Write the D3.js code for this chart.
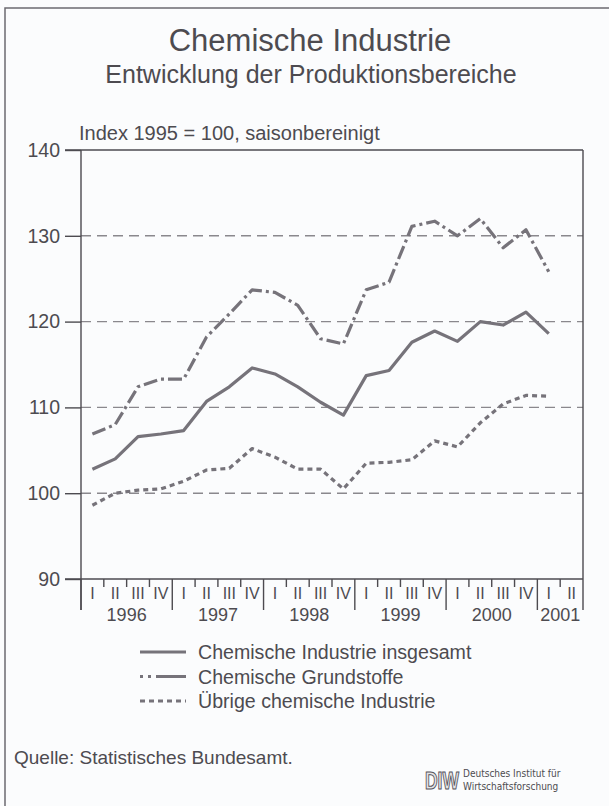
<!DOCTYPE html>
<html>
<head>
<meta charset="utf-8">
<script src="https://cdn.jsdelivr.net/npm/d3@7"></script>
<style>
    body { margin: 0; background: #fbfcfd; }
    svg { display: block; font-family: 'Liberation Sans', Arial, Helvetica, sans-serif; }
</style>
</head>
<body>
<div id="chart"></div>
<script>
'use strict';

const years = ['1996', '1997', '1998', '1999', '2000', '2001'];
const quarterNames = ['I', 'II', 'III', 'IV'];
const yTicks = [90, 100, 110, 120, 130, 140];
const gridValues = [100, 110, 120, 130];

// index 1995 = 100, quarters 1996 I .. 2001 I
const insgesamt = [102.8, 104.0, 106.6, 106.9, 107.3, 110.7, 112.4, 114.6, 113.9, 112.4, 110.6,
                   109.1, 113.7, 114.3, 117.6, 118.9, 117.7, 120.0, 119.6, 121.1, 118.6];
const grundstoffe = [106.9, 108.0, 112.4, 113.3, 113.3, 118.2, 120.9, 123.7, 123.4, 121.9, 118.0,
                     117.4, 123.7, 124.6, 131.1, 131.7, 130.0, 132.0, 128.6, 130.7, 125.8];
const uebrige = [98.6, 100.0, 100.35, 100.5, 101.4, 102.7, 102.9, 105.2, 104.2, 102.8, 102.8,
                 100.5, 103.5, 103.6, 103.9, 106.1, 105.4, 108.2, 110.4, 111.4, 111.3];

const seriesNames = ['Chemische Industrie insgesamt', 'Chemische Grundstoffe', 'Übrige chemische Industrie'];

const width = 609,
      height = 806;
const plot = {'left': 81, 'right': 583, 'top': 150, 'bottom': 579};
const ink = '#4d4b50',
      lineColor = '#76737a',
      gridColor = '#8a888d';
const dashes = ['none', '14,4,3,4', '5,4'];

// quarter list: only up to 2001 II
let quarters = [];
years.forEach(function(y) {
    quarterNames.forEach(function(q) {
        if (y == '2001' && (q == 'III' || q == 'IV')) return;
        quarters.push(y + '-' + q);
    });
});

let x = d3.scaleBand().domain(quarters).range([plot.left, plot.right]).padding(0);
let y = d3.scaleLinear().domain([90, 140]).range([plot.bottom, plot.top]);

let svg = d3.select('#chart')
            .append('svg')
            .attr('width', width)
            .attr('height', height);

// page frame
svg.append('path')
   .attr('d', 'M5,806 V8 H609')
   .attr('fill', 'none')
   .attr('stroke', '#6c6a70')
   .attr('stroke-width', 1.5);

svg.append('text')
   .attr('x', 310)
   .attr('y', 51)
   .attr('text-anchor', 'middle')
   .attr('font-size', 31)
   .attr('fill', ink)
   .text('Chemische Industrie');

svg.append('text')
   .attr('x', 311)
   .attr('y', 83)
   .attr('text-anchor', 'middle')
   .attr('font-size', 25)
   .attr('fill', ink)
   .text('Entwicklung der Produktionsbereiche');

svg.append('text')
   .attr('x', 79)
   .attr('y', 140)
   .attr('font-size', 20)
   .attr('fill', ink)
   .text('Index 1995 = 100, saisonbereinigt');

// grid
svg.append('g')
   .selectAll('line')
   .data(gridValues)
   .join('line')
   .attr('x1', plot.left)
   .attr('x2', plot.right)
   .attr('y1', d => y(d))
   .attr('y2', d => y(d))
   .attr('stroke', gridColor)
   .attr('stroke-width', 1.4)
   .attr('stroke-dasharray', '10,6');

// y axis
let yAxis = d3.axisLeft(y)
              .tickValues(yTicks)
              .tickSize(16)
              .tickPadding(5)
              .tickFormat(d3.format('d'));
let gy = svg.append('g')
            .attr('transform', 'translate(' + plot.left + ',0)')
            .call(yAxis);
gy.select('.domain').remove();
gy.selectAll('line').attr('stroke', ink).attr('stroke-width', 1.4);
gy.selectAll('text').attr('font-size', 19.5).attr('fill', ink).attr('font-family', null);

// frame: top, right, left, bottom axis
svg.append('path')
   .attr('d', 'M' + plot.right + ',' + y(140) + ' V610 M' + plot.left + ',' + y(140) + ' V610')
   .attr('fill', 'none')
   .attr('stroke', ink)
   .attr('stroke-width', 1.4);
svg.append('line')
   .attr('x1', plot.left - 16)
   .attr('x2', plot.right)
   .attr('y1', y(140))
   .attr('y2', y(140))
   .attr('stroke', ink)
   .attr('stroke-width', 1.4);
svg.append('line')
   .attr('x1', plot.left - 16)
   .attr('x2', plot.right)
   .attr('y1', y(90))
   .attr('y2', y(90))
   .attr('stroke', ink)
   .attr('stroke-width', 1.4);

// quarter ticks and labels
let xg = svg.append('g');
xg.selectAll('line.q')
  .data(quarters)
  .join('line')
  .attr('class', 'q')
  .attr('x1', d => x(d))
  .attr('x2', d => x(d))
  .attr('y1', y(90))
  .attr('y2', d => d.endsWith('-I') ? 610 : y(90) + 8)
  .attr('stroke', ink)
  .attr('stroke-width', 1.4);
xg.selectAll('text.q')
  .data(quarters)
  .join('text')
  .attr('class', 'q')
  .attr('x', d => x(d) + x.bandwidth() / 2)
  .attr('y', 599)
  .attr('text-anchor', 'middle')
  .attr('font-size', 16)
  .attr('fill', ink)
  .text(d => d.split('-')[1]);
xg.selectAll('text.y')
  .data(years)
  .join('text')
  .attr('class', 'y')
  .attr('x', function(d) {
      let qs = quarters.filter(q => q.startsWith(d));
      return (x(qs[0]) + x(qs[qs.length - 1]) + x.bandwidth()) / 2;
  })
  .attr('y', 621)
  .attr('text-anchor', 'middle')
  .attr('font-size', 18)
  .attr('fill', ink)
  .text(d => d);

// series
let line = d3.line()
             .x((d, i) => x(quarters[i]) + x.bandwidth() / 2)
             .y(d => y(d));
[insgesamt, grundstoffe, uebrige].forEach(function(s, k) {
    svg.append('path')
       .datum(s)
       .attr('d', line)
       .attr('fill', 'none')
       .attr('stroke', lineColor)
       .attr('stroke-width', 3.2)
       .attr('stroke-linejoin', 'round')
       .attr('stroke-dasharray', dashes[k]);
});

// legend
let legend = svg.append('g').attr('transform', 'translate(140,652)');
seriesNames.forEach(function(name, k) {
    legend.append('line')
          .attr('x1', 0)
          .attr('x2', 46)
          .attr('y1', k * 24.5)
          .attr('y2', k * 24.5)
          .attr('stroke', lineColor)
          .attr('stroke-width', 3)
          .attr('stroke-dasharray', k == 1 ? '3,5,3,5,30' : dashes[k]);
    legend.append('text')
          .attr('x', 58)
          .attr('y', k * 24.5 + 7)
          .attr('font-size', 19.6)
          .attr('fill', ink)
          .text(name);
});

svg.append('text')
   .attr('x', 14)
   .attr('y', 764)
   .attr('font-size', 19)
   .attr('fill', ink)
   .text('Quelle: Statistisches Bundesamt.');

// DIW logo
let logo = svg.append('g').attr('transform', 'translate(425,767)');
logo.append('text')
    .attr('transform', 'scale(1,1.4)')
    .attr('x', 0)
    .attr('y', 15.5)
    .attr('font-size', 17.5)
    .attr('font-weight', 'bold')
    .attr('fill', '#e4e4e6')
    .attr('stroke', '#55535a')
    .attr('stroke-width', 0.8)
    .text('DIW');
logo.append('text')
    .attr('x', 38)
    .attr('y', 10)
    .attr('font-family', "'DejaVu Sans Condensed', 'DejaVu Sans', sans-serif")
    .attr('font-size', 10)
    .attr('fill', ink)
    .text('Deutsches Institut für');
logo.append('text')
    .attr('x', 38)
    .attr('y', 23)
    .attr('font-family', "'DejaVu Sans Condensed', 'DejaVu Sans', sans-serif")
    .attr('font-size', 10)
    .attr('fill', ink)
    .text('Wirtschaftsforschung');
</script>
</body>
</html>
